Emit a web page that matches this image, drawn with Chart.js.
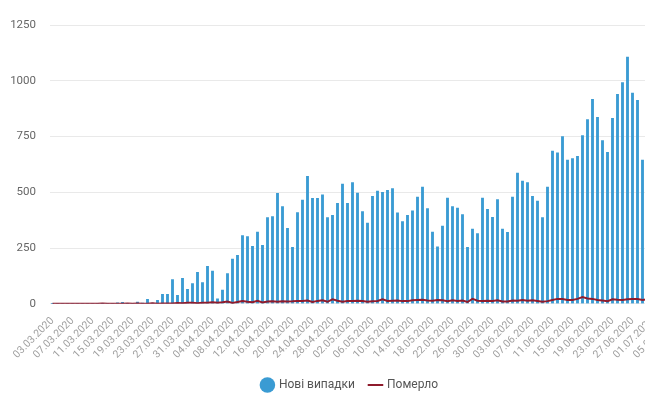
<!DOCTYPE html>
<html>
<head>
<meta charset="utf-8">
<script src="https://cdn.jsdelivr.net/npm/chart.js@4"></script>
<style>
  html, body { margin: 0; padding: 0; background: #fff; overflow: hidden; }
  #chart-container { width: 706px; height: 398px; position: relative; }
</style>
</head>
<body>
<div id="chart-container"><canvas id="grafica"></canvas></div>
<script>
// дати з 03.03.2020, по одній на день
const fechaInicio = "2020-03-03";
const totalDias = 130;

const nuevosCasos = [
  1, 0, 0, 0, 0, 0, 0, 0, 0, 0,
  2, 0, 0, 4, 7, 2, 0, 8, 3, 20,
  3, 15, 42, 42, 109, 38, 114, 65, 91, 141,
  95, 168, 147, 22, 61, 136, 200, 217, 306, 301,
  258, 321, 262, 386, 391, 495, 436, 338, 253, 409,
  465, 571, 473, 473, 488, 386, 397, 450, 537, 450,
  544, 496, 414, 362, 482, 505, 500, 509, 517, 408,
  369, 397, 417, 478, 523, 427, 321, 255, 348, 474,
  436, 429, 400, 253, 335, 315, 474, 424, 388, 467,
  335, 320, 479, 586, 550, 544, 482, 461, 387, 523,
  685, 677, 750, 644, 651, 661, 754, 826, 917, 836,
  732, 679, 832, 939, 992, 1106, 945, 912, 644, 863,
  970, 920, 914, 873, 812, 643, 656, 794, 919, 932
];

const murieron = [
  0, 0, 0, 0, 0, 0, 0, 0, 0, 0,
  1, 0, 0, 0, 0, 1, 0, 1, 0, 0,
  2, 0, 1, 1, 1, 4, 2, 5, 5, 3,
  5, 5, 7, 5, 7, 10, 4, 8, 12, 9,
  7, 13, 6, 10, 11, 9, 11, 10, 11, 13,
  13, 15, 8, 13, 16, 9, 20, 14, 9, 12,
  12, 14, 13, 9, 11, 13, 20, 13, 14, 15,
  12, 12, 16, 17, 18, 15, 14, 17, 16, 12,
  16, 13, 15, 8, 22, 14, 12, 14, 13, 16,
  10, 10, 15, 14, 17, 14, 16, 13, 9, 12,
  17, 22, 21, 17, 17, 22, 30, 24, 22, 17,
  15, 12, 20, 18, 17, 20, 22, 21, 17, 20,
  22, 18, 25, 20, 15, 17, 19, 22, 24, 20
];

const ticksY = [0, 250, 500, 750, 1000, 1250];

function generarFechas(inicio, n) {
  const base = new Date(inicio + "T00:00:00Z");
  const fechas = [];
  for (let i = 0; i < n; i++) {
    const d = new Date(base.getTime() + i * 86400000);
    const dd = String(d.getUTCDate()).padStart(2, "0");
    const mm = String(d.getUTCMonth() + 1).padStart(2, "0");
    fechas.push(`${dd}.${mm}.${d.getUTCFullYear()}`);
  }
  return fechas;
}

const fechas = generarFechas(fechaInicio, totalDias);

Chart.defaults.font.family = "Roboto, 'Open Sans', sans-serif";

const ctx = document.getElementById("grafica").getContext("2d");
new Chart(ctx, {
  data: {
    labels: fechas,
    datasets: [
      {
        type: "line",
        label: "Померло",
        data: murieron,
        borderColor: "#8e1b2c",
        backgroundColor: "#8e1b2c",
        borderWidth: 2,
        pointRadius: 0,
        pointStyle: "line",
        tension: 0,
        order: 0
      },
      {
        type: "bar",
        label: "Нові випадки",
        data: nuevosCasos,
        backgroundColor: "#3a9bd3",
        barThickness: 2.2,
        pointStyle: "circle",
        order: 1
      }
    ]
  },
  options: {
    responsive: true,
    maintainAspectRatio: false,
    animation: false,
    layout: { padding: { top: 25, right: 6, left: 0, bottom: -3 } },
    plugins: {
      legend: {
        position: "bottom",
        reverse: true,
        labels: {
          usePointStyle: true,
          boxWidth: 11,
          boxHeight: 11,
          padding: 15,
          color: "#555",
          font: { size: 12 }
        }
      },
      tooltip: { enabled: false }
    },
    scales: {
      x: {
        grid: { display: false },
        border: { display: false },
        ticks: {
          autoSkip: false,
          minRotation: 45,
          maxRotation: 45,
          color: "#a0a0a0",
          font: { size: 10.5 },
          callback: function(val, i) {
            return i % 4 === 0 ? this.getLabelForValue(val) : null;
          }
        }
      },
      y: {
        min: 0,
        max: 1250,
        afterFit: function(scale) { scale.width = 50; },
        afterBuildTicks: function(scale) {
          scale.ticks = ticksY.map(v => ({ value: v }));
        },
        grid: { color: "#e9e9e9", drawTicks: false },
        border: { display: false },
        ticks: {
          padding: 14,
          color: "#666",
          font: { size: 11.5 },
          callback: v => String(v)
        }
      }
    }
  }
});
</script>
</body>
</html>
